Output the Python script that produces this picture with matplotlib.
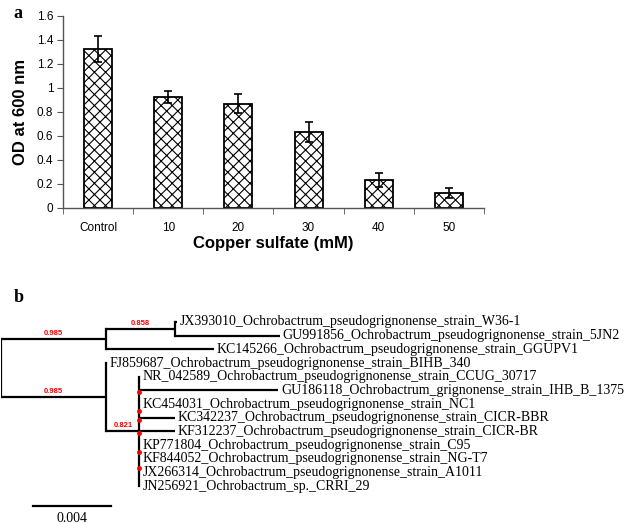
import matplotlib
matplotlib.use("Agg")
import matplotlib.pyplot as plt
import numpy as np

# ---------------- Panel a data ----------------
categories = ["Control", "10", "20", "30", "40", "50"]
od_values = [1.32, 0.92, 0.865, 0.63, 0.23, 0.12]
od_errors = [0.11, 0.05, 0.08, 0.08, 0.06, 0.04]
y_ticks = [0, 0.2, 0.4, 0.6, 0.8, 1.0, 1.2, 1.4, 1.6]
y_tick_labels = ["0", "0.2", "0.4", "0.6", "0.8", "1", "1.2", "1.4", "1.6"]

# ---------------- Panel b data (tree) ----------------
node_names = [
    "", "", "",
    "JX393010_Ochrobactrum_pseudogrignonense_strain_W36-1",
    "GU991856_Ochrobactrum_pseudogrignonense_strain_5JN2",
    "KC145266_Ochrobactrum_pseudogrignonense_strain_GGUPV1",
    "",
    "FJ859687_Ochrobactrum_pseudogrignonense_strain_BIHB_340",
    "",
    "NR_042589_Ochrobactrum_pseudogrignonense_strain_CCUG_30717",
    "GU186118_Ochrobactrum_grignonense_strain_IHB_B_1375",
    "KC454031_Ochrobactrum_pseudogrignonense_strain_NC1",
    "KC342237_Ochrobactrum_pseudogrignonense_strain_CICR-BBR",
    "KF312237_Ochrobactrum_pseudogrignonense_strain_CICR-BR",
    "KP771804_Ochrobactrum_pseudogrignonense_strain_C95",
    "KF844052_Ochrobactrum_pseudogrignonense_strain_NG-T7",
    "JX266314_Ochrobactrum_pseudogrignonense_strain_A1011",
    "JN256921_Ochrobactrum_sp._CRRI_29",
]
node_parents = [-1, 0, 1, 2, 2, 1, 0, 6, 6, 8, 8, 8, 8, 8, 8, 8, 8, 8]
branch_lengths = [0.0, 0.0054, 0.0035, 0.0001, 0.0054, 0.0055, 0.0054, 0.0,
                  0.0017, 0.0, 0.0071, 0.0, 0.0018, 0.0018, 0.0, 0.0, 0.0, 0.0]
support_nodes = [1, 2, 6, 8]
support_values = ["0.985", "0.858", "0.985", "0.821"]
red_dot_rows = [5.1, 6.5, 7.2, 8.1, 9.5, 10.7]
scale_bar_length = 0.004
scale_bar_label = "0.004"

# ---------------- Figure ----------------
W, H = 630, 523
fig = plt.figure(figsize=(W / 100, H / 100), dpi=100)

sans = ["Liberation Sans", "DejaVu Sans"]
serif = ["Liberation Serif", "DejaVu Serif"]

# Panel a
axl, axr = 63, 484
ay0, ay1 = 207.7, 15.7
ax = fig.add_axes([axl / W, 1 - ay0 / H, (axr - axl) / W, (ay0 - ay1) / H])
x = np.arange(len(categories))
plt.rcParams['hatch.linewidth'] = 0.8
ax.bar(x, od_values, width=0.4, color="white", edgecolor="black",
       linewidth=1.3, hatch="xxx", zorder=2)
ax.errorbar(x, od_values, yerr=od_errors, fmt="none", ecolor="black",
            elinewidth=1.2, capsize=3, capthick=1.2, zorder=3)
ax.set_xlim(-0.5, len(categories) - 0.5)
ax.set_ylim(0, 1.6)
ax.set_yticks(y_ticks)
ax.set_yticklabels(y_tick_labels, fontsize=8.5, family=sans)
ax.set_xticks(x)
ax.set_xticklabels(categories, fontsize=8.5, family=sans)
ax.set_xticks(np.arange(len(categories) + 1) - 0.5, minor=True)
ax.tick_params(axis="x", which="major", length=0, pad=10)
ax.tick_params(axis="x", which="minor", length=4, color="#555555", direction="out")
ax.tick_params(axis="y", length=4, color="#555555", direction="out", pad=3)
for s in ["top", "right"]:
    ax.spines[s].set_visible(False)
for s in ["left", "bottom"]:
    ax.spines[s].set_color("#555555")
    ax.spines[s].set_linewidth(1.0)
ax.set_ylabel("OD at 600 nm", fontsize=12, fontweight="bold", family=sans, labelpad=6)
ax.set_xlabel("Copper sulfate (mM)", fontsize=12, fontweight="bold", family=sans, labelpad=2)

fig.text(13 / W, 1 - 14 / H, "a", fontsize=13, fontweight="bold", family=serif,
         ha="left", va="center")
fig.text(14 / W, 1 - 298 / H, "b", fontsize=13, fontweight="bold", family=serif,
         ha="left", va="center")

# Panel b
px_per_unit = 78 / 0.004
row0_px, row_h = 322.0, 13.67
bx0, by_top, by_bot = 1, 290, 523
tx = fig.add_axes([bx0 / W, 0, (W - bx0) / W, (by_bot - by_top) / H])
tx.set_xlim(0, (W - bx0) / px_per_unit)
tx.set_ylim((by_bot - row0_px) / row_h, (by_top - row0_px) / row_h)
tx.axis("off")

n = len(node_names)
children = {i: [] for i in range(n)}
for i, p in enumerate(node_parents):
    if p >= 0:
        children[p].append(i)

xpos = [0.0] * n
for i in range(n):
    p = node_parents[i]
    xpos[i] = (xpos[p] if p >= 0 else 0.0) + branch_lengths[i]

ypos = [0.0] * n
leaf_counter = [0]


def assign_y(i):
    if not children[i]:
        ypos[i] = leaf_counter[0]
        leaf_counter[0] += 1
    else:
        for c in children[i]:
            assign_y(c)
        ypos[i] = np.mean([ypos[c] for c in children[i]])


assign_y(0)

lw = 1.6
for i in range(n):
    p = node_parents[i]
    if p >= 0:
        tx.plot([xpos[p], xpos[i]], [ypos[i], ypos[i]], color="black", lw=lw,
                solid_capstyle="butt")
    if children[i]:
        ys = [ypos[c] for c in children[i]]
        tx.plot([xpos[i], xpos[i]], [min(ys), max(ys)], color="black", lw=lw,
                solid_capstyle="projecting")
    else:
        tx.text(xpos[i] + 3 / px_per_unit, ypos[i], node_names[i], fontsize=10,
                family=serif, ha="left", va="center")

for node, val in zip(support_nodes, support_values):
    p = node_parents[node]
    tx.text((xpos[p] + xpos[node]) / 2, ypos[node] - 0.15, val, color="red",
            fontsize=5.5, fontweight="bold", ha="center", va="bottom", family=sans)

dx = xpos[8]
tx.plot([dx] * len(red_dot_rows), red_dot_rows, "o", color="red", ms=2.5, zorder=3)

# scale bar
sb_x0 = 32 / px_per_unit
sb_row = (506 - row0_px) / row_h
tx.plot([sb_x0, sb_x0 + scale_bar_length], [sb_row, sb_row], color="black", lw=1.6)
tx.text(sb_x0 + scale_bar_length / 2, (518 - row0_px) / row_h, scale_bar_label,
        fontsize=10, family=serif, ha="center", va="center")

fig.savefig("out.png", dpi=100)
